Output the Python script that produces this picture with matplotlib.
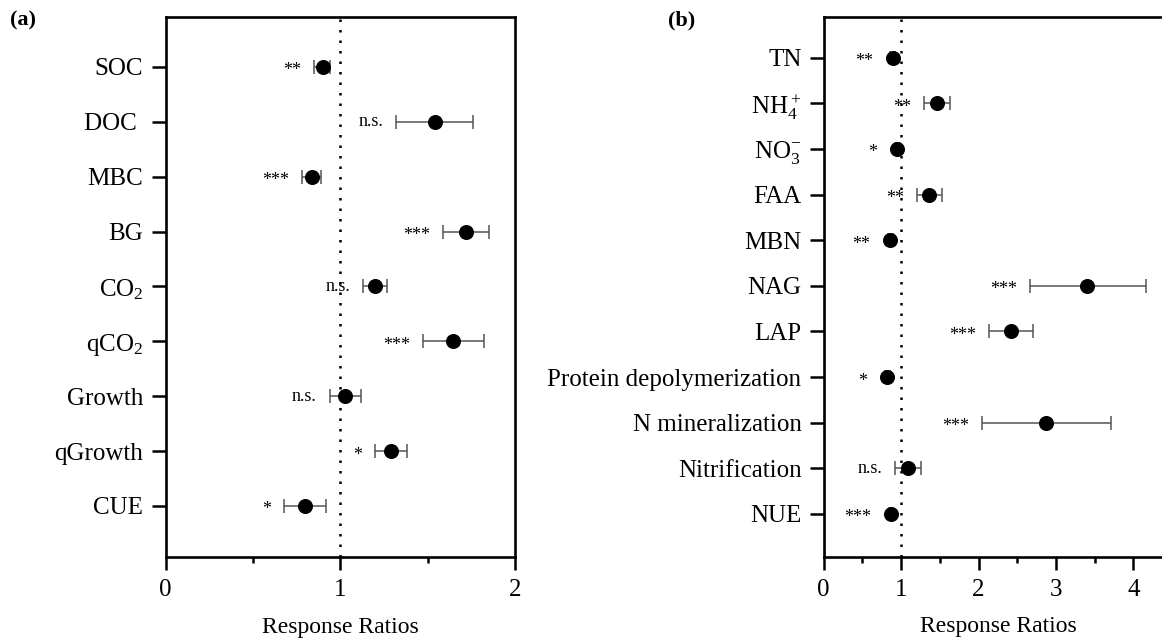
import matplotlib
matplotlib.use("Agg")
import matplotlib.pyplot as plt
from matplotlib.ticker import MultipleLocator

plt.rcParams['font.family'] = ['Liberation Serif', 'DejaVu Serif']
plt.rcParams['mathtext.default'] = 'regular'

# ---- data: panel (a) ----
cats_a = ['SOC', 'DOC ', 'MBC', 'BG', 'CO$_2$', 'qCO$_2$', 'Growth', 'qGrowth', 'CUE']
vals_a = [0.90, 1.54, 0.84, 1.72, 1.20, 1.645, 1.03, 1.29, 0.80]
low_a = [0.85, 1.32, 0.78, 1.59, 1.13, 1.475, 0.94, 1.20, 0.68]
high_a = [0.94, 1.76, 0.89, 1.85, 1.27, 1.82, 1.12, 1.38, 0.92]
sig_a = ['**', 'n.s.', '***', '***', 'n.s.', '***', 'n.s.', '*', '*']

# ---- data: panel (b) ----
cats_b = ['TN', 'NH$_4^+$', 'NO$_3^{-}$', 'FAA', 'MBN', 'NAG', 'LAP',
          'Protein depolymerization', 'N mineralization', 'Nitrification', 'NUE']
vals_b = [0.89, 1.46, 0.95, 1.36, 0.86, 3.40, 2.42, 0.82, 2.87, 1.09, 0.87]
low_b = [0.86, 1.30, 0.92, 1.20, 0.83, 2.66, 2.135, 0.79, 2.04, 0.92, 0.84]
high_b = [0.92, 1.63, 0.98, 1.525, 0.89, 4.16, 2.70, 0.85, 3.71, 1.25, 0.90]
sig_b = ['**', '**', '*', '**', '**', '***', '***', '*', '***', 'n.s.', '***']

W, H = 1162, 639
fig = plt.figure(figsize=(W / 100, H / 100), dpi=100)

ax_a = fig.add_axes([165.5 / W, 1 - 557 / H, (515 - 165.5) / W, (557 - 17) / H])
ax_b = fig.add_axes([823.7 / W, 1 - 556.7 / H, (1172.2 - 823.7) / W, (556.7 - 16.7) / H])

MS = 9.8  # marker size in points
R_PX = MS / 72 * 100 / 2


def draw(ax, cats, vals, low, high, sig, xlim, ylim, major, minor):
    ys = list(range(len(cats)))
    xerr = [[v - l for v, l in zip(vals, low)], [h - v for v, h in zip(vals, high)]]
    ax.set_xlim(*xlim)
    ax.set_ylim(*ylim)
    ax.axvline(1, color='black', linestyle=(0, (1, 3.2)), linewidth=1.8, zorder=1)
    ax.errorbar(vals, ys, xerr=xerr, fmt='none', ecolor='#555555', elinewidth=1.1,
                capsize=5, capthick=1.1, zorder=2)
    ax.plot(vals, ys, 'o', color='black', markersize=MS, zorder=3)
    ax.set_yticks(ys)
    ax.set_yticklabels(cats, fontsize=18)
    ax.xaxis.set_major_locator(MultipleLocator(major))
    ax.xaxis.set_minor_locator(MultipleLocator(minor))
    ax.tick_params(axis='x', which='major', length=9, width=1.8, labelsize=18, pad=7)
    ax.tick_params(axis='x', which='minor', length=4, width=1.8)
    ax.tick_params(axis='y', which='major', length=10, width=1.8, pad=6)
    for s in ax.spines.values():
        s.set_linewidth(1.9)
    ax.set_xlabel('Response Ratios', fontsize=17, labelpad=11)
    # significance labels
    for v, l, y, s in zip(vals, low, ys, sig):
        cpx, ypx = ax.transData.transform((v, y))
        lpx = ax.transData.transform((l, y))[0]
        left = min(lpx, cpx - R_PX)
        dy = -4 if s.startswith('*') else 0
        xd, yd = ax.transData.inverted().transform((left - 13, ypx + dy))
        ax.text(xd, yd, s, ha='right', va='center', fontsize=13, zorder=4)


draw(ax_a, cats_a, vals_a, low_a, high_a, sig_a, (0, 2), (8.93, -0.91), 1, 0.5)
draw(ax_b, cats_b, vals_b, low_b, high_b, sig_b, (0, 4.5), (10.94, -0.9), 1, 0.5)

fig.text(10 / W, 1 - 20 / H, '(a)', fontsize=16, fontweight='bold', ha='left', va='center')
fig.text(668 / W, 1 - 20 / H, '(b)', fontsize=16, fontweight='bold', ha='left', va='center')

fig.savefig('out.png', dpi=100)
